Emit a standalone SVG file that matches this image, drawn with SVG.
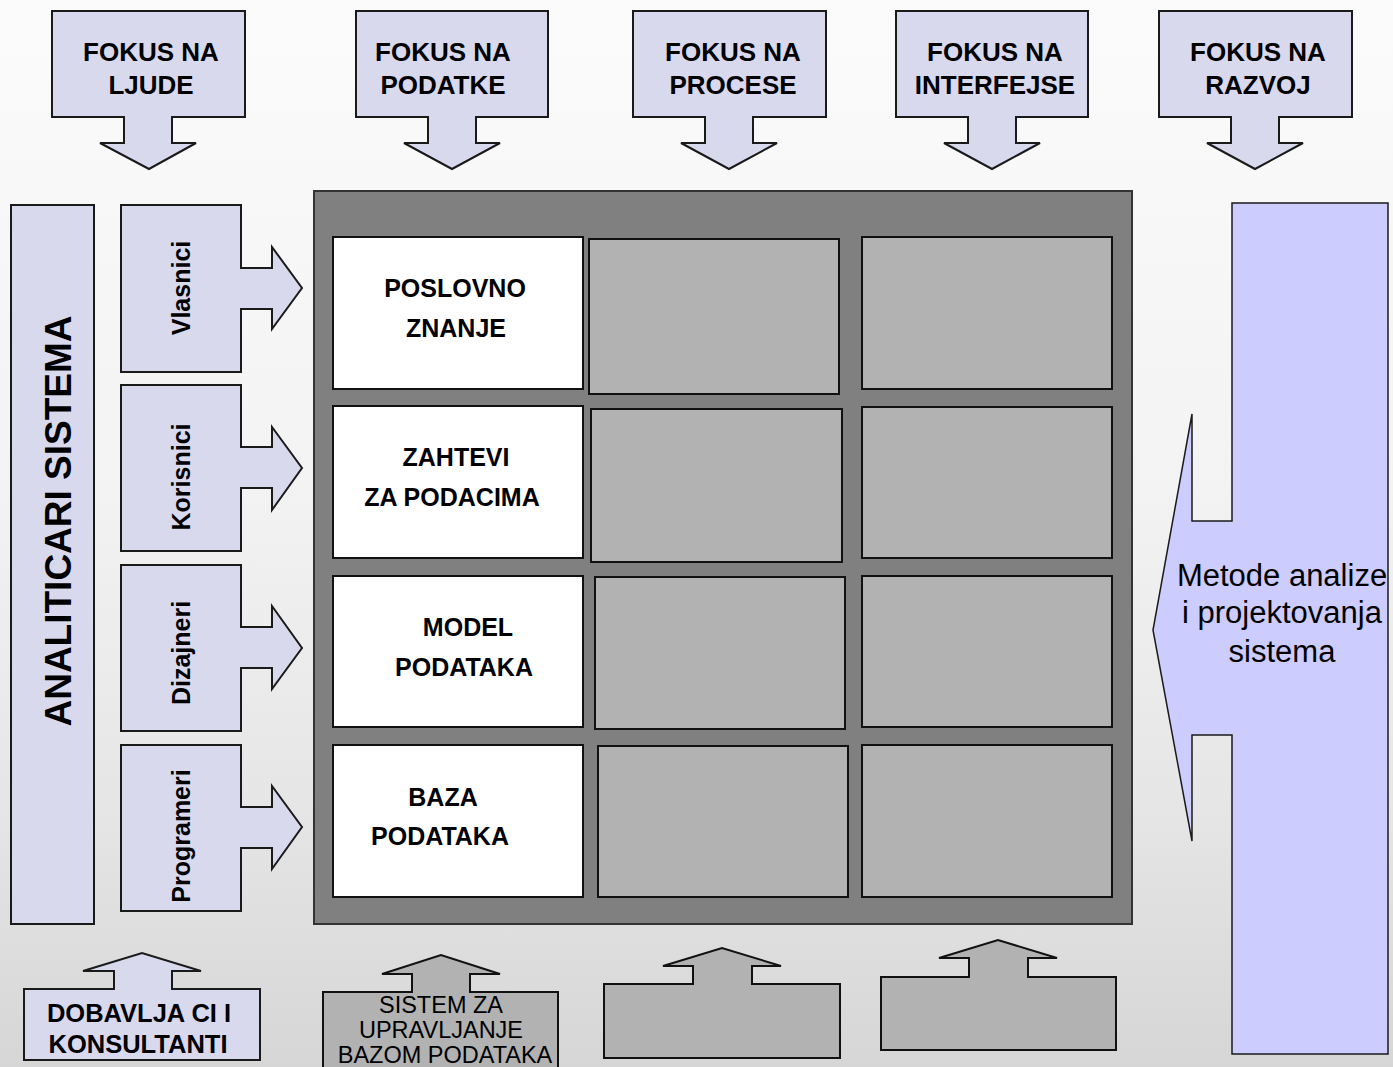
<svg xmlns="http://www.w3.org/2000/svg" width="1393" height="1067" viewBox="0 0 1393 1067">
<defs>
<linearGradient id="bg" x1="0" y1="0" x2="0" y2="1">
<stop offset="0" stop-color="#fbfbfb"/>
<stop offset="0.45" stop-color="#f3f3f3"/>
<stop offset="0.75" stop-color="#e6e6e6"/>
<stop offset="1" stop-color="#d6d6d6"/>
</linearGradient>
</defs>
<style>
.lav{fill:#d9d9ee;stroke:#1a1a1a;stroke-width:2}
.blue{fill:#ccccff;stroke:#1a1a1a;stroke-width:1.5}
.gray{fill:#b2b2b2;stroke:#111;stroke-width:2}
.white{fill:#ffffff;stroke:#111;stroke-width:2}
.panel{fill:#808080;stroke:#333;stroke-width:2}
.b{font-family:"Liberation Sans",Arial,sans-serif;font-weight:bold;fill:#000;text-anchor:middle}
.r{font-family:"Liberation Sans",Arial,sans-serif;fill:#000;text-anchor:middle}
.t26{font-size:26px}
.t25{font-size:25px}
</style>
<rect x="0" y="0" width="1393" height="1067" fill="url(#bg)"/>

<g id="top-ljude">
<polygon class="lav" points="52,11 245,11 245,117 172,117 172,143 196,143 149,169 100,143 124,143 124,117 52,117"/>
<text class="b t26" x="151" y="61">FOKUS NA</text>
<text class="b t26" x="151" y="94">LJUDE</text>
</g>
<g id="top-podatke">
<polygon class="lav" points="356,11 548,11 548,117 476,117 476,143 500,143 452,169 404,143 428,143 428,117 356,117"/>
<text class="b t26" x="443" y="61">FOKUS NA</text>
<text class="b t26" x="443" y="94">PODATKE</text>
</g>
<g id="top-procese">
<polygon class="lav" points="633,11 826,11 826,117 753,117 753,143 777,143 729,169 681,143 705,143 705,117 633,117"/>
<text class="b t26" x="733" y="61">FOKUS NA</text>
<text class="b t26" x="733" y="94">PROCESE</text>
</g>
<g id="top-interfejse">
<polygon class="lav" points="896,11 1088,11 1088,117 1016,117 1016,143 1040,143 992,169 944,143 968,143 968,117 896,117"/>
<text class="b t26" x="995" y="61">FOKUS NA</text>
<text class="b t26" x="995" y="94">INTERFEJSE</text>
</g>
<g id="top-razvoj">
<polygon class="lav" points="1159,11 1352,11 1352,117 1279,117 1279,143 1303,143 1255,169 1207,143 1231,143 1231,117 1159,117"/>
<text class="b t26" x="1258" y="61">FOKUS NA</text>
<text class="b t26" x="1258" y="94">RAZVOJ</text>
</g>

<g id="analiticari">
<rect class="lav" x="11" y="205" width="83" height="719"/>
<text class="b" font-size="37" transform="translate(71,521) rotate(-90)">ANALITICARI SISTEMA</text>
</g>

<g id="vlasnici">
<polygon class="lav" points="121,205 241,205 241,268 272,268 272,247 302,288 272,329 272,309 241,309 241,372 121,372"/>
<text class="b t25" transform="translate(190,288) rotate(-90)">Vlasnici</text>
</g>
<g id="korisnici">
<polygon class="lav" points="121,385 241,385 241,447 272,447 272,427 302,468 272,510 272,488 241,488 241,551 121,551"/>
<text class="b t25" transform="translate(190,477) rotate(-90)">Korisnici</text>
</g>
<g id="dizajneri">
<polygon class="lav" points="121,565 241,565 241,627 272,627 272,606 302,648 272,689 272,668 241,668 241,731 121,731"/>
<text class="b t25" transform="translate(190,653) rotate(-90)">Dizajneri</text>
</g>
<g id="programeri">
<polygon class="lav" points="121,745 241,745 241,807 272,807 272,786 302,827 272,869 272,848 241,848 241,911 121,911"/>
<text class="b t25" transform="translate(190,836) rotate(-90)">Programeri</text>
</g>

<g id="matrix">
<rect class="panel" x="314" y="191" width="818" height="733"/>
<g id="cell-poslovno">
<rect class="white" x="333" y="237" width="250" height="152"/>
<text class="b t25" x="455" y="297">POSLOVNO</text>
<text class="b t25" x="456" y="337">ZNANJE</text>
</g>
<g id="cell-zahtevi">
<rect class="white" x="333" y="406" width="250" height="152"/>
<text class="b t25" x="456" y="466">ZAHTEVI</text>
<text class="b t25" x="452" y="506">ZA PODACIMA</text>
</g>
<g id="cell-model">
<rect class="white" x="333" y="576" width="250" height="151"/>
<text class="b t25" x="468" y="636">MODEL</text>
<text class="b t25" x="464" y="676">PODATAKA</text>
</g>
<g id="cell-baza">
<rect class="white" x="333" y="745" width="250" height="152"/>
<text class="b t25" x="443" y="806">BAZA</text>
<text class="b t25" x="440" y="845">PODATAKA</text>
</g>
<g id="cells-gray">
<rect class="gray" x="589" y="239" width="250" height="155"/>
<rect class="gray" x="591" y="409" width="251" height="153"/>
<rect class="gray" x="595" y="577" width="250" height="152"/>
<rect class="gray" x="598" y="746" width="250" height="151"/>
<rect class="gray" x="862" y="237" width="250" height="152"/>
<rect class="gray" x="862" y="407" width="250" height="151"/>
<rect class="gray" x="862" y="576" width="250" height="151"/>
<rect class="gray" x="862" y="745" width="250" height="152"/>
</g>
</g>

<g id="metode">
<polygon class="blue" points="1232,203 1388,203 1388,1054 1232,1054 1232,735 1192,735 1192,841 1153,630 1192,414 1192,521 1232,521"/>
<text class="r" font-size="31" x="1282" y="586">Metode analize</text>
<text class="r" font-size="31" x="1282" y="623">i projektovanja</text>
<text class="r" font-size="31" x="1282" y="662">sistema</text>
</g>

<g id="dobavljaci">
<polygon class="lav" points="24,989 114,989 114,971 83,971 142,953 201,971 172,971 172,989 260,989 260,1060 24,1060"/>
<text class="b" font-size="25.5" x="139" y="1022">DOBAVLJA CI I</text>
<text class="b" font-size="25.5" x="138" y="1053">KONSULTANTI</text>
</g>
<g id="sistem-baze">
<polygon class="gray" stroke-width="1.5" points="323,992 412,992 412,974 382,974 441,955 500,974 470,974 470,992 558,992 558,1075 323,1075"/>
<text class="r" font-size="23.5" x="441" y="1013">SISTEM ZA</text>
<text class="r" font-size="23.5" x="441" y="1038">UPRAVLJANJE</text>
<text class="r" font-size="23.5" x="445" y="1063">BAZOM PODATAKA</text>
</g>
<g id="bottom-3">
<polygon class="gray" stroke-width="1.5" points="604,984 693,984 693,966 663,966 722,948 781,966 752,966 752,984 840,984 840,1058 604,1058"/>
</g>
<g id="bottom-4">
<polygon class="gray" stroke-width="1.5" points="881,977 969,977 969,958 939,958 998,940 1057,958 1028,958 1028,977 1116,977 1116,1050 881,1050"/>
</g>
<g id="connectors"></g>
</svg>
